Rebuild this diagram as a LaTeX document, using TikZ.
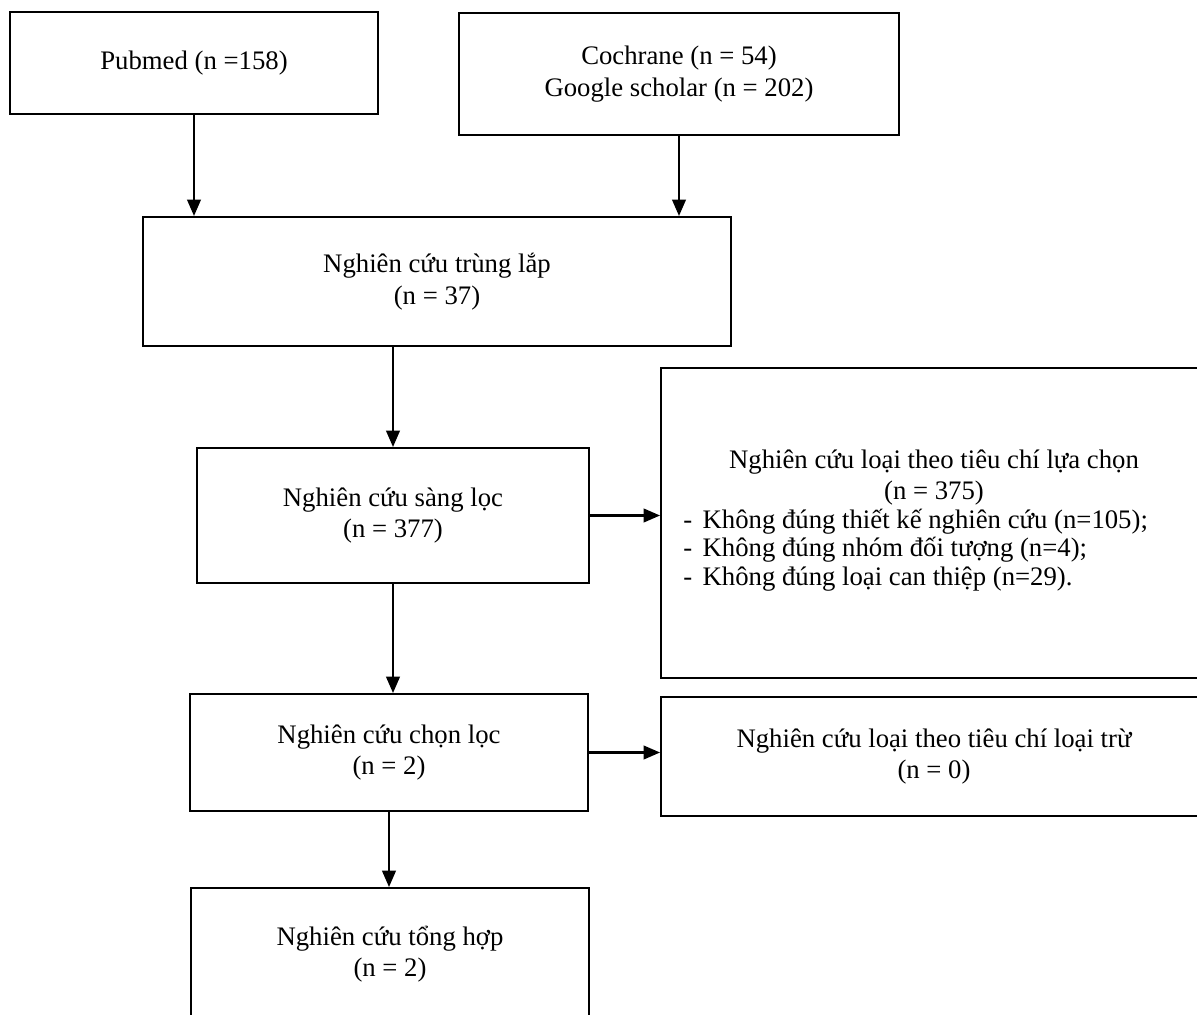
\documentclass[tikz,border=0pt]{standalone}
\usepackage{fontspec}
\setmainfont{Liberation Serif}
\usepackage{tikz}
\usetikzlibrary{arrows.meta,backgrounds}
\tikzset{%
  BoxStyle/.style={draw,line width=1pt,align=center,inner sep=0pt,font=\fontsize{13.9}{16.4}\selectfont},
  ListStyle/.style={align=left,inner sep=0pt,font=\fontsize{13.9}{14.8}\selectfont},
  FlowArrow/.style={line width=1.25pt,-{Triangle[length=8.5pt,width=7pt]}}
}

\begin{document}
\begin{tikzpicture}[x=0.52pt,y=-0.52pt]
\useasboundingbox (0,0) rectangle (1197,1015);

\node (pubmed) [BoxStyle,minimum width=191.4pt,minimum height=53pt] at (194,63) {Pubmed (n =158)};
\node (cochrane) [BoxStyle,minimum width=228.8pt,minimum height=63.4pt] at (679,74) {Cochrane (n = 54)\\Google scholar (n = 202)};
\node (trunglap) [BoxStyle,minimum width=305.8pt,minimum height=67.1pt] at (437,281.5) {Nghiên cứu trùng lắp\\(n = 37)};
\node (sangloc) [BoxStyle,minimum width=203.8pt,minimum height=70.2pt] at (393,515.5) {Nghiên cứu sàng lọc\\(n = 377)};
\node (tieuchi) [BoxStyle,minimum width=283.9pt,minimum height=161.2pt] at (934,523) {};
\node (tieuchititle) [BoxStyle,draw=none] at (934,477.5) {Nghiên cứu loại theo tiêu chí lựa chọn\\(n = 375)};
\node (tieuchilist) [ListStyle,anchor=west] at (683,550) {\makebox[10pt][l]{-}Không đúng thiết kế nghiên cứu (n=105);\\\makebox[10pt][l]{-}Không đúng nhóm đối tượng (n=4);\\\makebox[10pt][l]{-}Không đúng loại can thiệp (n=29).};
\node (chonloc) [BoxStyle,minimum width=207pt,minimum height=60.8pt] at (389,752.5) {Nghiên cứu chọn lọc\\(n = 2)};
\node (loaitru) [BoxStyle,minimum width=283.9pt,minimum height=61.9pt] at (934,756.5) {Nghiên cứu loại theo tiêu chí loại trừ\\(n = 0)};
\node (tonghop) [BoxStyle,minimum width=207pt,minimum height=68.6pt] at (390,954) {Nghiên cứu tổng hợp\\(n = 2)};

\begin{scope}[on background layer]
    \draw [FlowArrow] (pubmed.south) -- (pubmed.south |- trunglap.north);
    \draw [FlowArrow] (cochrane.south) -- (cochrane.south |- trunglap.north);
    \draw [FlowArrow] (sangloc.north |- trunglap.south) -- (sangloc.north);
    \draw [FlowArrow] (sangloc.east) -- (sangloc.east -| tieuchi.west);
    \draw [FlowArrow] (sangloc.south) -- (sangloc.south |- chonloc.north);
    \draw [FlowArrow] (chonloc.east) -- (chonloc.east -| loaitru.west);
    \draw [FlowArrow] (chonloc.south) -- (chonloc.south |- tonghop.north);
\end{scope}
\end{tikzpicture}
\end{document}
